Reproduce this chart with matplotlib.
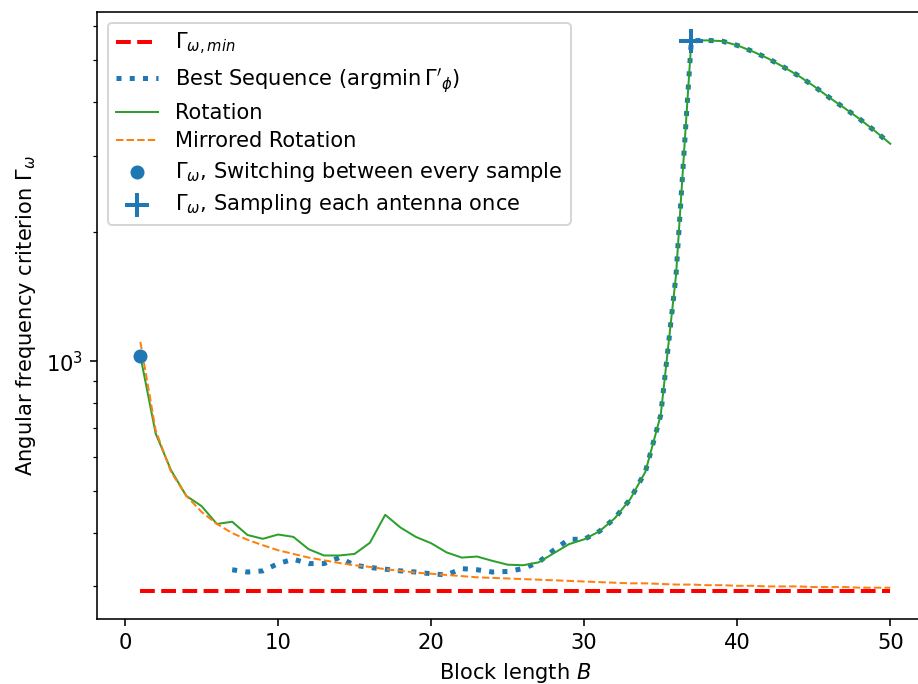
import numpy as np
import matplotlib as mpl
mpl.use('Agg')
import matplotlib.pyplot as plt

mpl.rcParams['font.size'] = 10.5

# block lengths
B = list(range(1, 51))

gamma_min = 292  # Gamma_omega,min (constant)

rotation = [1030, 680, 559, 487, 461, 419, 424, 395, 387, 396,
            391, 366, 354, 354, 357, 379, 440, 411, 391, 378,
            360, 350, 352, 344, 337, 336, 341, 358, 376, 386,
            403, 432, 478, 554, 750, 1585, 5555, 5567, 5545, 5420,
            5248, 5056, 4834, 4607, 4360, 4104, 3877, 3655, 3427, 3202]

mirrored = [1110, 692, 554, 487, 447, 419, 399, 385, 374, 364,
            357, 350, 345, 340, 336, 333, 329, 326, 323, 321,
            319, 317, 315, 314, 313, 312, 311, 310, 309, 308,
            307, 306, 305, 305, 304, 303, 303, 302, 302, 301,
            301, 300, 300, 300, 299, 299, 299, 298, 298, 298]

# best sequence starts at B = 7
best_B = list(range(7, 51))
best = [328, 324, 326, 339, 347, 339, 339, 350, 336, 332,
        329, 326, 324, 321, 319, 330, 328, 324, 325, 330,
        341, 364, 386, 386,
        403, 432, 478, 554, 750, 1585, 5555, 5567, 5545, 5420,
        5248, 5056, 4834, 4607, 4360, 4104, 3877, 3655, 3427, 3202]

switch_B, switch_val = 1, 1030
once_B, once_val = 37, 5555

fig = plt.figure(figsize=(918/144, 684/144), dpi=144)
ax = fig.add_axes([0.1057, 0.095, 0.9113, 0.887])

ax.plot(B, [gamma_min]*len(B), ls='--', lw=2, color='red', label=r'$\Gamma_{\omega,min}$')
ax.plot(best_B, best, ls=':', lw=2.5, color='C0', label=r"Best Sequence ($\mathrm{argmin}\,\Gamma'_\phi$)")
ax.plot(B, rotation, ls='-', lw=1, color='C2', label='Rotation')
ax.plot(B, mirrored, ls='--', lw=1, color='C1', label='Mirrored Rotation')
ax.scatter([switch_B], [switch_val], s=36, color='C0', zorder=3,
           label=r'$\Gamma_\omega$, Switching between every sample')
ax.scatter([once_B], [once_val], s=150, marker='+', linewidths=2, color='C0', zorder=3,
           label=r'$\Gamma_\omega$, Sampling each antenna once')

ax.set_yscale('log')
ax.set_xlim(-1.83, 52.83)
ax.set_ylim(252, 6468)
ax.set_xticks([0, 10, 20, 30, 40, 50])
ax.set_xlabel(r'Block length $B$')
ax.set_ylabel(r'Angular frequency criterion $\Gamma_\omega$')
ax.legend(loc='upper left', labelspacing=0.4)

fig.savefig('out.png', dpi=144)
